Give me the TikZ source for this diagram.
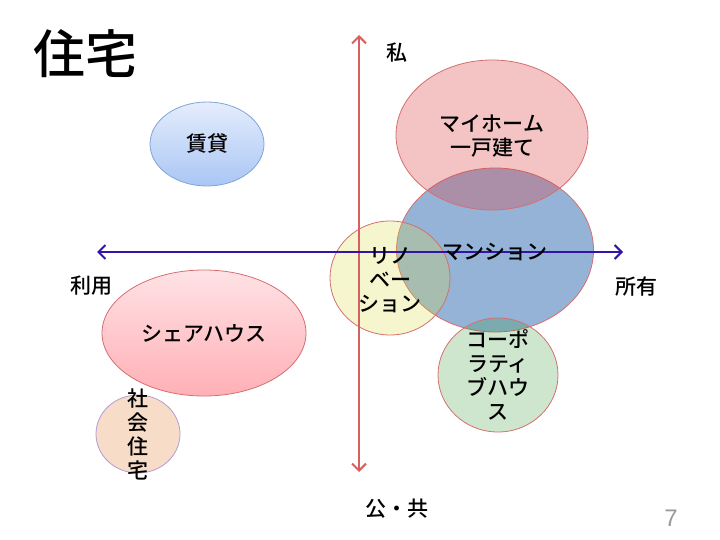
\documentclass[tikz,border=0pt]{standalone}
\usepackage{fontspec}
\setmainfont{Noto Sans CJK JP}[UprightFont={* Medium}]
\newfontfamily\numfont{Liberation Sans}
\usetikzlibrary{shapes.geometric,arrows.meta}
\definecolor{axisred}{RGB}{214,96,96}
\definecolor{axisblue}{RGB}{52,20,168}
\definecolor{rimred}{RGB}{214,110,110}
\definecolor{rimblue}{RGB}{130,165,215}
\definecolor{rimpurple}{RGB}{180,155,210}
\definecolor{officeblue}{RGB}{79,129,189}
\definecolor{homered}{RGB}{220,60,60}
\definecolor{renoyellow}{RGB}{220,220,60}
\definecolor{coopgreen}{RGB}{30,140,30}
\definecolor{socialpeach}{RGB}{247,221,200}
\definecolor{renttop}{RGB}{228,237,252}
\definecolor{rentbottom}{RGB}{170,198,245}
\definecolor{sharetop}{RGB}{255,226,229}
\definecolor{sharebottom}{RGB}{255,176,182}

\begin{document}
\begin{tikzpicture}[x=1pt,y=-1pt,
    bubble/.style={ellipse,draw=rimred,line width=0.8pt,inner sep=0pt},
    lbl/.style={font=\fontsize{21}{24}\selectfont,align=center,inner sep=0pt},
    axis/.style={line width=2pt,{Straight Barb[length=7pt,width=14pt]}-{Straight Barb[length=7pt,width=14pt]}}]
            \useasboundingbox (0,0) rectangle (720,540);
            % Title
            \node[font=\fontsize{52}{60}\selectfont] (title) at (85,54) {住宅};
            % Bubbles
            \node[bubble,draw=rimblue,top color=renttop,bottom color=rentbottom,
                  minimum width=114pt,minimum height=84pt] (rent) at (207,144) {};
            \node[bubble,fill=officeblue,fill opacity=0.6,
                  minimum width=197pt,minimum height=164pt] (mansion) at (495,250) {};
            \node[bubble,fill=homered,fill opacity=0.3,
                  minimum width=192pt,minimum height=150pt] (myhome) at (492,135) {};
            \node[bubble,fill=renoyellow,fill opacity=0.25,
                  minimum width=120pt,minimum height=114pt] (reno) at (390,278) {};
            \node[bubble,fill=coopgreen,fill opacity=0.22,
                  minimum width=120pt,minimum height=114pt] (coop) at (498,375) {};
            \node[bubble,top color=sharetop,bottom color=sharebottom,
                  minimum width=204pt,minimum height=126pt] (share) at (204,333) {};
            \node[bubble,draw=rimpurple,fill=socialpeach,
                  minimum width=84pt,minimum height=78pt] (social) at (138,434) {};
            % Axes
            \coordinate (top) at (359,35);
            \coordinate (bottom) at (359,472);
            \coordinate (left) at (97,252);
            \coordinate (right) at (623,252);
            \draw[axis,axisred] (bottom) -- (top);
            \draw[axis,axisblue] (left) -- (right);
            % Axis labels
            \node[lbl] (private) at (397,53) {私};
            \node[lbl] (public) at (397,509) {公・共};
            \node[lbl] (use) at (91,286) {利用};
            \node[lbl] (own) at (636,287) {所有};
            % Bubble texts
            \node[lbl] at (rent) {賃貸};
            \node[lbl] at (492,136) {マイホーム\\一戸建て};
            \node[lbl] at (mansion.center |- right) {マンション};
            \node[lbl] at (390,280) {リノ\\ベー\\ション};
            \node[lbl] at (498,375) {コーポ\\ラティ\\ブハウ\\ス};
            \node[lbl] at (share) {シェアハウス};
            \node[lbl] at (138,434) {社\\会\\住\\宅};
            % Page number
            \node[font=\numfont\fontsize{24}{28}\selectfont,text=gray!80] (page) at (671,518) {7};
        \end{tikzpicture}
\end{document}
